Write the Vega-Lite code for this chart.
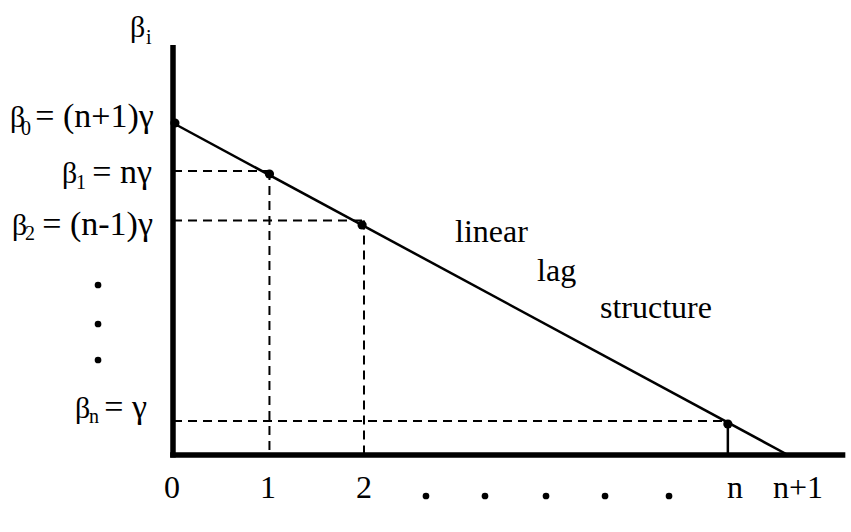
{
  "$schema": "https://vega.github.io/schema/vega-lite/v6.json",
  "width": 851,
  "height": 532,
  "padding": 0,
  "autosize": {"type": "none"},
  "background": "white",
  "config": {"view": {"stroke": null}},
  "datasets": {
    "line": [{"x": 0, "y": 6.64}, {"x": 6.44, "y": 0}],
    "dashed": [
      {"x": 0, "y": 5.68, "x2": 1.01, "y2": 5.68},
      {"x": 1.01, "y": 5.68, "x2": 1.01, "y2": 0},
      {"x": 0, "y": 4.69, "x2": 2.0, "y2": 4.69},
      {"x": 2.0, "y": 4.69, "x2": 2.0, "y2": 0},
      {"x": 0, "y": 0.68, "x2": 5.81, "y2": 0.68}
    ],
    "solid": [{"x": 5.81, "y": 0.65, "x2": 5.81, "y2": 0}],
    "axes": [
      {"x": 0, "y": -0.05, "x2": 0, "y2": 8.2},
      {"x": -0.03, "y": 0, "x2": 7.04, "y2": 0}
    ],
    "points": [
      {"x": 0.02, "y": 6.64},
      {"x": 1.01, "y": 5.62},
      {"x": 1.98, "y": 4.6},
      {"x": 5.81, "y": 0.62}
    ],
    "dots": [
      {"x": 2.649, "y": -0.82}, {"x": 3.267, "y": -0.82}, {"x": 3.906, "y": -0.82},
      {"x": 4.524, "y": -0.82}, {"x": 5.194, "y": -0.82},
      {"x": -0.785, "y": 3.4}, {"x": -0.785, "y": 2.62}, {"x": -0.785, "y": 1.9}
    ],
    "betaText": [
      {"x": -1.706, "y": 6.56, "t": "β"},
      {"x": -1.162, "y": 5.44, "t": "β"},
      {"x": -1.685, "y": 4.4, "t": "β"},
      {"x": -1.026, "y": 0.74, "t": "β"},
      {"x": -0.45, "y": 8.36, "t": "β"}
    ],
    "noteText": [
      {"x": 2.953, "y": 4.26, "t": "linear"},
      {"x": 3.812, "y": 3.48, "t": "lag"},
      {"x": 4.471, "y": 2.74, "t": "structure"}
    ],
    "subText": [
      {"x": -1.591, "y": 6.4, "t": "0"},
      {"x": -1.015, "y": 5.32, "t": "1"},
      {"x": -1.55, "y": 4.3, "t": "2"},
      {"x": -0.88, "y": 0.64, "t": "n"},
      {"x": -0.283, "y": 8.22, "t": "i"}
    ],
    "rightText": [
      {"x": -0.2, "y": 6.56, "t": "= (n+1)γ"},
      {"x": -0.22, "y": 5.44, "t": "= nγ"},
      {"x": -0.21, "y": 4.4, "t": "= (n-1)γ"},
      {"x": -0.272, "y": 0.74, "t": "= γ"}
    ],
    "ticks": [
      {"x": -0.01, "y": -0.86, "t": "0"},
      {"x": 0.995, "y": -0.86, "t": "1"},
      {"x": 2.0, "y": -0.86, "t": "2"},
      {"x": 5.885, "y": -0.86, "t": "n"},
      {"x": 6.545, "y": -0.86, "t": "n+1"}
    ]
  },
  "layer": [
    {
      "data": {"name": "dashed"},
      "mark": {"type": "rule", "color": "black", "strokeWidth": 2, "strokeDash": [9, 6]},
      "encoding": {
        "x": {"field": "x", "type": "quantitative", "axis": null, "scale": {"domain": [-1.8115, 7.0995], "nice": false, "zero": false}},
        "y": {"field": "y", "type": "quantitative", "axis": null, "scale": {"domain": [-1.54, 9.1], "nice": false, "zero": false}},
        "x2": {"field": "x2"},
        "y2": {"field": "y2"}
      }
    },
    {
      "data": {"name": "solid"},
      "mark": {"type": "rule", "color": "black", "strokeWidth": 2.5},
      "encoding": {
        "x": {"field": "x", "type": "quantitative"},
        "y": {"field": "y", "type": "quantitative"},
        "x2": {"field": "x2"},
        "y2": {"field": "y2"}
      }
    },
    {
      "data": {"name": "line"},
      "mark": {"type": "line", "color": "black", "strokeWidth": 2.5},
      "encoding": {
        "x": {"field": "x", "type": "quantitative"},
        "y": {"field": "y", "type": "quantitative"}
      }
    },
    {
      "data": {"name": "points"},
      "mark": {"type": "point", "shape": "circle", "filled": true, "color": "black", "opacity": 1, "size": 85},
      "encoding": {
        "x": {"field": "x", "type": "quantitative"},
        "y": {"field": "y", "type": "quantitative"}
      }
    },
    {
      "data": {"name": "axes"},
      "mark": {"type": "rule", "color": "black", "strokeWidth": 5.5},
      "encoding": {
        "x": {"field": "x", "type": "quantitative"},
        "y": {"field": "y", "type": "quantitative"},
        "x2": {"field": "x2"},
        "y2": {"field": "y2"}
      }
    },
    {
      "data": {"name": "dots"},
      "mark": {"type": "point", "shape": "circle", "filled": true, "color": "black", "opacity": 1, "size": 45},
      "encoding": {
        "x": {"field": "x", "type": "quantitative"},
        "y": {"field": "y", "type": "quantitative"}
      }
    },
    {
      "data": {"name": "betaText"},
      "mark": {"type": "text", "align": "left", "baseline": "alphabetic", "font": "Times New Roman, Liberation Serif, Tinos, serif", "color": "black", "fontSize": 30},
      "encoding": {
        "x": {"field": "x", "type": "quantitative"},
        "y": {"field": "y", "type": "quantitative"},
        "text": {"field": "t"}
      }
    },
    {
      "data": {"name": "noteText"},
      "mark": {"type": "text", "align": "left", "baseline": "alphabetic", "font": "Times New Roman, Liberation Serif, Tinos, serif", "color": "black", "fontSize": 32},
      "encoding": {
        "x": {"field": "x", "type": "quantitative"},
        "y": {"field": "y", "type": "quantitative"},
        "text": {"field": "t"}
      }
    },
    {
      "data": {"name": "subText"},
      "mark": {"type": "text", "align": "left", "baseline": "alphabetic", "font": "Times New Roman, Liberation Serif, Tinos, serif", "color": "black", "fontSize": 20},
      "encoding": {
        "x": {"field": "x", "type": "quantitative"},
        "y": {"field": "y", "type": "quantitative"},
        "text": {"field": "t"}
      }
    },
    {
      "data": {"name": "rightText"},
      "mark": {"type": "text", "align": "right", "baseline": "alphabetic", "font": "Times New Roman, Liberation Serif, Tinos, serif", "color": "black", "fontSize": 34},
      "encoding": {
        "x": {"field": "x", "type": "quantitative"},
        "y": {"field": "y", "type": "quantitative"},
        "text": {"field": "t"}
      }
    },
    {
      "data": {"name": "ticks"},
      "mark": {"type": "text", "align": "center", "baseline": "alphabetic", "font": "Times New Roman, Liberation Serif, Tinos, serif", "color": "black", "fontSize": 32},
      "encoding": {
        "x": {"field": "x", "type": "quantitative"},
        "y": {"field": "y", "type": "quantitative"},
        "text": {"field": "t"}
      }
    }
  ]
}
